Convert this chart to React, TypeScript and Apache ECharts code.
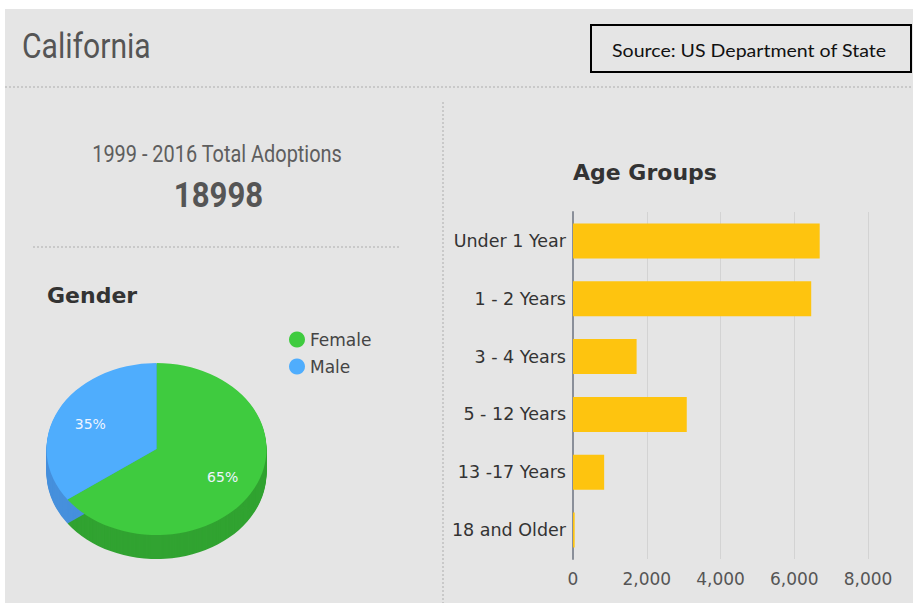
import React, { useEffect, useRef } from "react";
import * as echarts from "echarts";

const pageTitle = "California";
const sourceText = "Source: US Department of State";
const totalLabel = "1999 - 2016 Total Adoptions";
const totalValue = "18998";

const genderTitle = "Gender";
const genderNames = ["Female", "Male"];
const genderValues = [65, 35];
const genderTopColors = ["#3fcb3f", "#4fadfd"];
const genderSideColors = ["#31a331", "#4690dc"];

const ageTitle = "Age Groups";
const ageGroups = ["Under 1 Year", "1 - 2 Years", "3 - 4 Years", "5 - 12 Years", "13 -17 Years", "18 and Older"];
const ageValues = [6690, 6460, 1725, 3085, 845, 45];
const xTicks = { min: 0, max: 8000, interval: 2000 };

const FONT = "DejaVu Sans, Verdana, sans-serif";

export default function App() {
  const ref = useRef<HTMLDivElement>(null);

  useEffect(() => {
    if (!ref.current) return;
    const chart = echarts.init(ref.current, undefined, { renderer: "svg" });

    const cx = 156.5;
    const cy = 449;
    const r = 110;
    const k = 0.782;
    const depth = 24;
    const total = genderValues.reduce((a, b) => a + b, 0);

    const pieSeries = genderNames.map((name, gi) => ({
      type: "custom",
      name,
      coordinateSystem: "none",
      itemStyle: { color: genderTopColors[gi] },
      data: [genderValues[gi]],
      renderItem: (params: any, api: any) => {
        const val = api.value(0);
        let before = 0;
        for (let j = 0; j < gi; j++) before += genderValues[j];
        const start = -Math.PI / 2 + (2 * Math.PI * before) / total;
        const end = start + (2 * Math.PI * val) / total;
        const mid = (start + end) / 2;
        const children: any[] = [];
        for (let d = depth; d >= 1; d--) {
          children.push({
            type: "group",
            x: cx,
            y: cy + d,
            scaleY: k,
            children: [
              {
                type: "sector",
                z2: 1,
                shape: { cx: 0, cy: 0, r, r0: 0, startAngle: start, endAngle: end, clockwise: true },
                style: { fill: genderSideColors[gi] },
              },
            ],
          });
        }
        children.push({
          type: "group",
          x: cx,
          y: cy,
          scaleY: k,
          children: [
            {
              type: "sector",
              z2: 10,
              shape: { cx: 0, cy: 0, r, r0: 0, startAngle: start, endAngle: end, clockwise: true },
              style: { fill: genderTopColors[gi] },
            },
          ],
        });
        children.push({
          type: "text",
          z2: 20,
          x: cx + Math.cos(mid) * r * 0.675,
          y: cy + Math.sin(mid) * r * 0.675 * k + 1.5,
          style: {
            text: Math.round((val / total) * 100) + "%",
            fill: "#eef4ff",
            fontSize: 14,
            fontFamily: FONT,
            align: "center",
            verticalAlign: "middle",
          },
        });
        return { type: "group", children };
      },
    }));

    const dotted = (x1: number, y1: number, x2: number, y2: number) => ({
      type: "line",
      shape: { x1, y1, x2, y2 },
      style: { stroke: "#c9c9c9", lineWidth: 2, lineDash: [2, 2] },
    });

    const option: any = {
      animation: false,
      backgroundColor: "#e5e5e5",
      legend: {
        orient: "vertical",
        left: 284,
        top: 326,
        icon: "circle",
        itemWidth: 16,
        itemHeight: 16,
        itemGap: 10,
        data: genderNames,
        textStyle: { fontSize: 17, fontFamily: FONT, color: "#444" },
      },
      grid: { left: 573, right: 45, top: 212, bottom: 44, containLabel: false },
      xAxis: {
        type: "value",
        min: xTicks.min,
        max: xTicks.max,
        interval: xTicks.interval,
        axisLine: { show: false },
        axisTick: { show: false },
        splitLine: { show: true, lineStyle: { color: "#d3d3d3", width: 1 } },
        axisLabel: {
          fontSize: 17,
          fontFamily: FONT,
          color: "#555",
          margin: 11,
          formatter: (v: number) => v.toLocaleString("en-US"),
        },
      },
      yAxis: {
        type: "category",
        data: ageGroups,
        inverse: true,
        axisLine: { show: true, lineStyle: { color: "#8a8f99", width: 2 } },
        axisTick: { show: false },
        splitLine: { show: false },
        axisLabel: { fontSize: 17.5, fontFamily: FONT, color: "#333", margin: 7 },
      },
      series: [
        {
          type: "bar",
          name: ageTitle,
          data: ageValues,
          barWidth: 35,
          itemStyle: { color: "#fec40f" },
        },
        ...pieSeries,
      ],
      graphic: [
        { type: "rect", shape: { x: 0, y: 0, width: 913, height: 9 }, style: { fill: "#ffffff" } },
        { type: "rect", shape: { x: 0, y: 0, width: 5, height: 603 }, style: { fill: "#ffffff" } },
        dotted(5, 87, 913, 87),
        dotted(33, 247, 400, 247),
        dotted(443, 102, 443, 603),
        {
          type: "rect",
          shape: { x: 591, y: 25, width: 320, height: 47 },
          style: { fill: "none", stroke: "#000", lineWidth: 2 },
        },
        {
          type: "text",
          x: 612,
          y: 49.5,
          scaleX: 1.087,
          style: {
            text: sourceText,
            fontSize: 18,
            fontFamily: "Lato, Open Sans, sans-serif",
            fill: "#111",
            align: "left",
            verticalAlign: "middle",
          },
        },
        {
          type: "text",
          x: 22,
          y: 46,
          scaleX: 0.86,
          style: {
            text: pageTitle,
            fontSize: 35,
            fontFamily: "Roboto, sans-serif",
            fill: "#555",
            align: "left",
            verticalAlign: "middle",
          },
        },
        {
          type: "text",
          x: 217,
          y: 154,
          scaleX: 0.83,
          style: {
            text: totalLabel,
            fontSize: 24,
            fontFamily: "Roboto, sans-serif",
            fill: "#5e5e5e",
            align: "center",
            verticalAlign: "middle",
          },
        },
        {
          type: "text",
          x: 218.5,
          y: 195,
          scaleX: 0.89,
          style: {
            text: totalValue,
            fontSize: 35,
            fontWeight: "bold",
            fontFamily: "Roboto, sans-serif",
            fill: "#555",
            align: "center",
            verticalAlign: "middle",
          },
        },
        {
          type: "text",
          x: 47,
          y: 295,
          style: {
            text: genderTitle,
            fontSize: 22,
            fontWeight: "bold",
            fontFamily: FONT,
            fill: "#333",
            align: "left",
            verticalAlign: "middle",
          },
        },
        {
          type: "text",
          x: 573,
          y: 172,
          style: {
            text: ageTitle,
            fontSize: 22,
            fontWeight: "bold",
            fontFamily: FONT,
            fill: "#333",
            align: "left",
            verticalAlign: "middle",
          },
        },
      ],
    };

    chart.setOption(option);
    return () => chart.dispose();
  }, []);

  return (
    <div
      ref={ref}
      style={{ position: "fixed", left: 0, top: 0, width: 913, height: 603 }}
    />
  );
}
